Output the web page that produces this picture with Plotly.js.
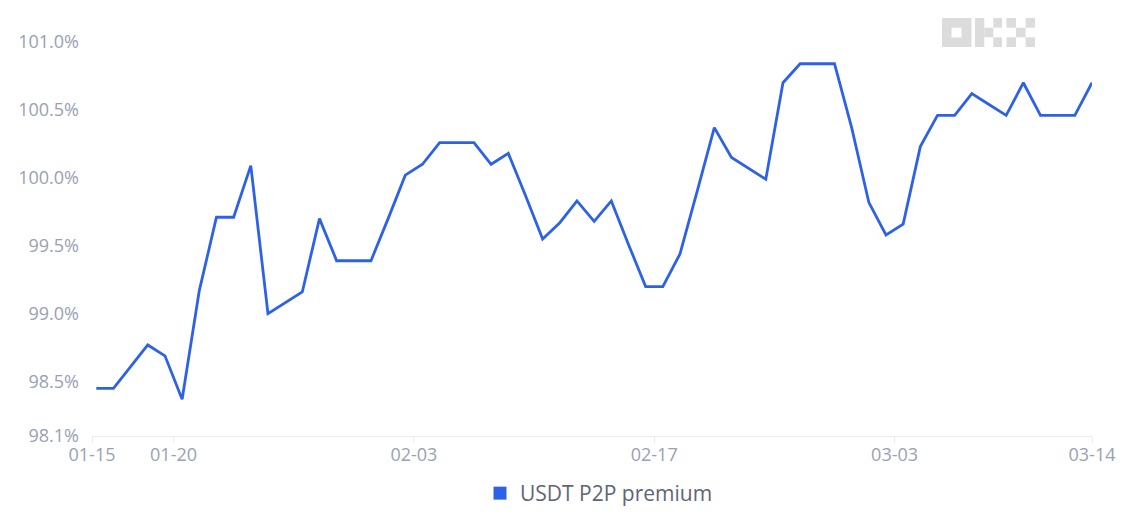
<!DOCTYPE html>
<html>
<head>
<meta charset="utf-8">
<script src="https://cdn.plot.ly/plotly-3.0.1.min.js"></script>
<style>
html,body{margin:0;padding:0;background:#fff;}
#chart{width:1129px;height:516px;}
</style>
</head>
<body>
<div id="chart"></div>
<script>
// ---- data ----
const seriesName = "USDT P2P premium";
const startDate = "2025-01-15";
const premium = [
  98.45, 98.45, 98.61, 98.77, 98.69, 98.37, 99.17, 99.71, 99.71, 100.09,
  99.00, 99.08, 99.16, 99.70, 99.39, 99.39, 99.39, 99.70, 100.02, 100.10,
  100.26, 100.26, 100.26, 100.10, 100.18, 99.87, 99.55, 99.67, 99.83, 99.68,
  99.83, 99.51, 99.20, 99.20, 99.44, 99.90, 100.37, 100.15, 100.07, 99.99,
  100.70, 100.84, 100.84, 100.84, 100.37, 99.82, 99.58, 99.66, 100.23, 100.46,
  100.46, 100.62, 100.54, 100.46, 100.70, 100.46, 100.46, 100.46, 100.70
];
const xTickVals = ["2025-01-15 06:00", "2025-01-20", "2025-02-03", "2025-02-17", "2025-03-03", "2025-03-14 12:00"];
const xTickText = ["01-15", "01-20", "02-03", "02-17", "03-03", "03-14"];
const yTickVals = [98.1, 98.5, 99.0, 99.5, 100.0, 100.5, 101.0];
const yTickText = ["98.1%", "98.5%", "99.0%", "99.5%", "100.0%", "100.5%", "101.0%"];

// daily points at midday
const dates = premium.map((_, i) => {
  const d = new Date(Date.UTC(2025, 0, 15, 12) + i * 86400000);
  return d.toISOString().slice(0, 10) + " 12:00";
});

// ---- layout geometry ----
const W = 1129, H = 516;
const M = {l: 92, r: 37, t: 42, b: 80};
const pw = W - M.l - M.r, ph = H - M.t - M.b;
const px = x => (x - M.l) / pw;
const py = y => (H - M.b - y) / ph;

const BLUE = "#2e62e6";
const GRAY = "#dcdcdc";
function rect(x0, y0, x1, y1, color) {
  return {type: "rect", xref: "paper", yref: "paper",
    x0: px(x0), x1: px(x1), y0: py(y1), y1: py(y0),
    fillcolor: color, line: {width: 0}, layer: "below"};
}
// OKX watermark (decoration)
const logo = [
  rect(942, 18, 971.5, 47, GRAY), rect(951.5, 27.7, 961.5, 37.5, "#ffffff"),
  rect(975, 18, 984.3, 47, GRAY), rect(984.3, 27.7, 993.3, 37.3, GRAY),
  rect(993.3, 18, 1002, 27.7, GRAY), rect(993.3, 37.3, 1002, 47, GRAY),
  rect(1006.5, 18, 1016, 27.7, GRAY), rect(1025.6, 18, 1035, 27.7, GRAY),
  rect(1016, 27.7, 1025.6, 37.3, GRAY),
  rect(1006.5, 37.3, 1016, 47, GRAY), rect(1025.6, 37.3, 1035, 47, GRAY)
];

const traces = [
  {x: dates, y: premium, type: "scatter", mode: "lines", name: seriesName,
   line: {color: BLUE, width: 2.8, shape: "linear"}, showlegend: false,
   hoverinfo: "x+y"},
  {x: [null], y: [null], type: "scatter", mode: "markers", name: seriesName,
   marker: {color: BLUE, symbol: "square", size: 13}, showlegend: true}
];

const layout = {
  width: W, height: H,
  margin: M,
  paper_bgcolor: "#ffffff", plot_bgcolor: "#ffffff",
  font: {family: "Open Sans, Noto Sans, sans-serif", color: "#99a1b3", size: 18},
  showlegend: true,
  legend: {orientation: "h", xref: "container", yref: "container",
    x: 480 / W, xanchor: "left", y: 1 - 473 / H, yanchor: "top",
    font: {size: 21, color: "#5f6575"}, itemclick: false, itemdoubleclick: false},
  xaxis: {
    type: "date", automargin: false,
    range: [xTickVals[0], xTickVals[xTickVals.length - 1]],
    tickmode: "array", tickvals: xTickVals, ticktext: xTickText,
    showgrid: false, zeroline: false,
    showline: true, linecolor: "#ececec", linewidth: 1,
    ticks: "outside", ticklen: 6, tickcolor: "#ececec", tickwidth: 1,
    ticklabelstandoff: -4,
    tickfont: {size: 18, color: "#99a1b3"},
    fixedrange: true
  },
  yaxis: {
    range: [98.1, 101.0], automargin: false,
    tickmode: "array", tickvals: yTickVals, ticktext: yTickText,
    showgrid: false, zeroline: false, showline: false,
    ticks: "", ticklabelstandoff: 12,
    tickfont: {size: 18, color: "#99a1b3"},
    fixedrange: true
  },
  shapes: logo
};

Plotly.newPlot("chart", traces, layout, {displayModeBar: false});
</script>
</body>
</html>
